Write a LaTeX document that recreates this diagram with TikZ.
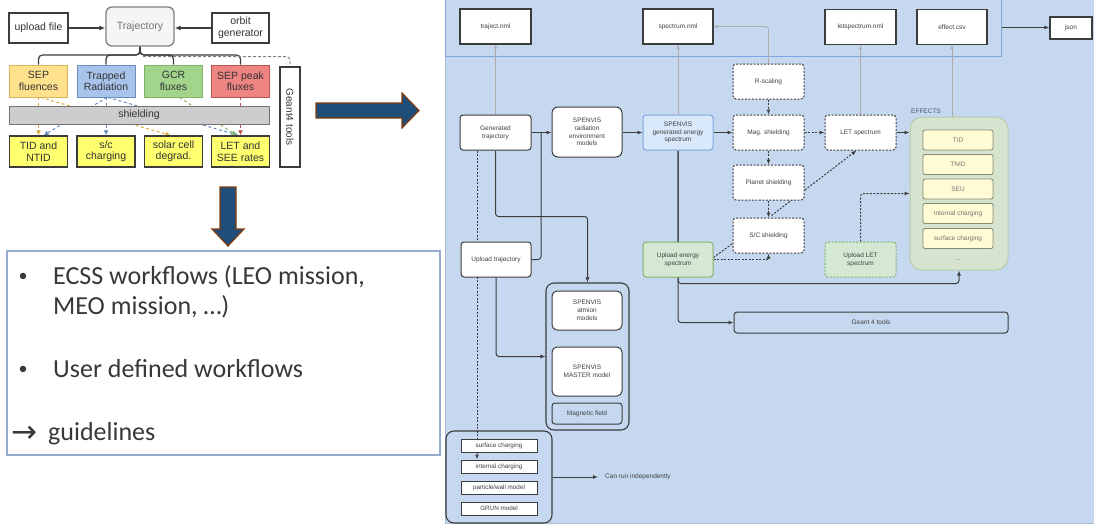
\documentclass[tikz,border=0pt]{standalone}
\usepackage{fontspec}
\setmainfont{Liberation Sans}
\newfontfamily\calib{Carlito}
\newfontfamily\djv{DejaVu Sans}
\usetikzlibrary{arrows.meta,calc}
\pgfdeclarelayer{bg}
\pgfdeclarelayer{edges}
\pgfsetlayers{bg,edges,main}
\definecolor{panel}{RGB}{198,216,239}
\definecolor{bandline}{RGB}{126,166,224}
\definecolor{dk}{RGB}{60,60,60}
\definecolor{orfill}{RGB}{255,224,140}
\definecolor{orline}{RGB}{214,182,86}
\definecolor{orarrow}{RGB}{222,170,60}
\definecolor{blfill}{RGB}{169,196,235}
\definecolor{blline}{RGB}{108,142,191}
\definecolor{grfill}{RGB}{163,212,140}
\definecolor{grline}{RGB}{130,179,102}
\definecolor{rdfill}{RGB}{238,133,131}
\definecolor{rdline}{RGB}{184,84,80}
\definecolor{yelfill}{RGB}{255,255,112}
\definecolor{shfill}{RGB}{205,205,205}
\definecolor{arrfill}{RGB}{31,78,121}
\definecolor{arrline}{RGB}{132,60,12}
\definecolor{tbline}{RGB}{150,170,205}
\definecolor{specfill}{RGB}{218,232,252}
\definecolor{upgreen}{RGB}{213,232,212}
\definecolor{effill}{RGB}{213,227,207}
\definecolor{efline}{RGB}{183,203,170}
\definecolor{innfill}{RGB}{255,252,213}
\definecolor{innline}{RGB}{138,138,112}
\definecolor{eflabel}{RGB}{70,85,105}
\tikzset{
  lbox/.style={draw=dk, line width=1.3pt, minimum width=58pt, minimum height=31pt, inner sep=1pt, align=center, font=\fontsize{10.5}{11.5}\selectfont, text=black!80},
  cbox/.style={lbox, line width=0.8pt, minimum height=32pt},
  rb/.style={draw=dk, line width=1pt, fill=white, rounded corners=3pt, minimum width=71pt, minimum height=35pt, inner sep=1pt, align=center, font=\fontsize{6.5}{7.8}\selectfont, text=black!75},
  rdash/.style={rb, dash pattern=on 2pt off 1.5pt},
  outb/.style={rb, rounded corners=0pt, line width=1.3pt},
  inner/.style={draw=innline, line width=0.9pt, fill=innfill, rounded corners=2pt, minimum width=70pt, minimum height=20pt, inner sep=1pt, font=\fontsize{6.5}{7.8}\selectfont, text=black!55},
  small/.style={draw=dk, line width=1pt, fill=white, minimum width=76pt, minimum height=13pt, inner sep=0.5pt, font=\fontsize{6.3}{7}\selectfont, text=black!75},
  flow/.style={draw=dk, line width=1pt, -{Latex[length=5pt,width=4pt]}},
  dflow/.style={flow, dash pattern=on 2pt off 1.5pt},
  dline/.style={draw=dk, line width=1pt, dash pattern=on 2pt off 1.5pt},
  gflow/.style={draw=gray!65, line width=0.8pt, -{Latex[length=4pt,width=3.5pt]}},
  lflow/.style={draw=dk, line width=1.2pt, -{Latex[length=6pt,width=5pt]}},
  cdash/.style={line width=1pt, dash pattern=on 3pt off 2.5pt},
  bigtext/.style={anchor=base west, inner sep=0pt, font=\calib\fontsize{26}{30}\selectfont, text=black!78},
  bullet/.style={anchor=center, inner sep=0pt, font=\calib\fontsize{18}{20}\selectfont, text=black!78}
}
\begin{document}
\begin{tikzpicture}[x=1pt,y=-1pt]
\useasboundingbox (0,0) rectangle (1094,525);

% ---------- right panel background ----------
\begin{pgfonlayer}{bg}
  \fill[panel] (445,0) rectangle (1094,523);
  \draw[tbline!80, line width=1pt] (445,0) -- (445,523) -- (1094,523);
  \node[draw=bandline, line width=1pt, minimum width=556pt, minimum height=57pt, inner sep=0pt] (band) at (723,27.5) {};
\end{pgfonlayer}

% ---------- left top diagram ----------
\node[lbox] (upfile) at (38.5,28) [minimum width=59pt, minimum height=30pt] {upload file};
\node[lbox, rounded corners=6pt, fill=black!4, draw=black!50, text=black!55, minimum width=68pt, minimum height=39pt] (traj) at (140,26.5) {Trajectory};
\node[lbox, minimum width=57pt, minimum height=30pt] (orbit) at (240.5,28) {orbit\\generator};

\node[cbox, fill=orfill, draw=orline] (sepf) at (38.5,81) {SEP\\fluences};
\node[cbox, fill=blfill, draw=blline] (trap) at (106,81) {Trapped\\Radiation};
\node[cbox, fill=grfill, draw=grline] (gcr) at (173.5,81) {GCR\\fluxes};
\node[cbox, fill=rdfill, draw=rdline] (sepp) at (240.5,81) {SEP peak\\fluxes};

\node[lbox, draw=black!55, line width=1pt, fill=shfill, minimum width=260pt, minimum height=18pt] (shield) at (139,115) {shielding};

\node[lbox, fill=yelfill] (tid) at (38.5,151.5) {TID and\\NTID};
\node[lbox, fill=yelfill] (scc) at (106,151.5) {s/c\\charging};
\node[lbox, fill=yelfill] (solar) at (173.5,151.5) {solar cell\\degrad.};
\node[lbox, fill=yelfill] (lets) at (240.5,151.5) {LET and\\SEE rates};

\node[lbox, line width=1.1pt, minimum width=20pt, minimum height=100pt, font=\fontsize{10}{11}\selectfont] (g4) at (290,117) {\rotatebox{-90}{Geant4 tools}};

\coordinate (bus) at (140,55);

% ---------- big arrows ----------
\draw[fill=arrfill, draw=arrline, line width=1.2pt] (316,103) -- (402,103) -- (402,93) -- (419,110.5) -- (402,128) -- (402,118) -- (316,118) -- cycle;
\draw[fill=arrfill, draw=arrline, line width=1.2pt] (220,187) -- (236,187) -- (236,229) -- (244,229) -- (228,246) -- (212,229) -- (220,229) -- cycle;

% ---------- text box ----------
\node[draw=tbline, line width=1.2pt, fill=white, minimum width=433pt, minimum height=204pt, inner sep=0pt] (tbox) at (223.5,353) {};
\node[bullet] (b1) at (23,277) {•};
\node[bigtext] (t1) at (53,284) {ECSS workflows (LEO mission,};
\node[bigtext] (t2) at (53,314) {MEO mission, …)};
\node[bullet] (b2) at (23,370) {•};
\node[bigtext] (t3) at (53,377) {User defined workflows};
\node[anchor=base west, inner sep=0pt, font=\djv\fontsize{31}{34}\selectfont, text=black!78] (arr) at (11,442) {→};
\node[bigtext] (t4) at (48,440) {guidelines};

% ---------- right diagram: outputs ----------
\node[outb] (trajnml) at (495.5,26.5) {traject.nml};
\node[outb, minimum width=70pt] (specnml) at (678,26.5) {spectrum.nml};
\node[outb] (letnml) at (860.5,27) {letspectrum.nml};
\node[outb, minimum width=70pt] (effcsv) at (952,27) {effect.csv};
\node[outb, minimum width=42pt, minimum height=22pt] (json) at (1071,28) {json};

% ---------- right diagram: main nodes ----------
\node[rb] (gentraj) at (495.5,132.5) {Generated\\trajectory};
\node[rb, rounded corners=6pt, minimum width=70pt, minimum height=50pt] (senv) at (587,132) {SPENVIS\\radiation\\environment\\models};
\node[rb, fill=specfill, draw=bandline, minimum width=70pt] (genspec) at (678,132.5) {SPENVIS\\generated energy\\spectrum};
\node[rdash] (rscale) at (768.5,81.5) {R-scaling};
\node[rdash] (mag) at (768.5,132.5) {Mag. shielding};
\node[rdash] (planet) at (768.5,182.5) {Planet shielding};
\node[rdash] (scsh) at (768.5,235.5) {S/C shielding};
\node[rdash] (letsp) at (860.5,132.5) {LET spectrum};

\node[draw=efline, line width=1pt, fill=effill, rounded corners=12pt, minimum width=98pt, minimum height=153pt] (effects) at (959,193.5) {};
\node[anchor=south west, inner sep=1pt, font=\fontsize{6.5}{7.8}\selectfont, text=eflabel] (eflab) at (910,115) {EFFECTS};
\node[inner] (e1) at (958,140) {TID};
\node[inner] (e2) at (958,164.5) {TNID};
\node[inner] (e3) at (958,189) {SEU};
\node[inner] (e4) at (958,213.5) {Internal charging};
\node[inner] (e5) at (958,238.5) {surface charging};
\node[font=\fontsize{6.5}{7.8}\selectfont, text=black!50] (edots) at (958,260) {...};

\node[rb, minimum width=70pt] (uptraj) at (496,259.5) {Upload trajectory};
\node[rb, fill=upgreen, draw=grline, minimum width=70pt] (upE) at (678,259.5) {Upload energy\\spectrum};
\node[rdash, fill=upgreen, draw=grline] (upLET) at (860.5,259.5) {Upload LET\\spectrum};

\node[draw=dk, line width=1.1pt, rounded corners=8pt, minimum width=83pt, minimum height=147pt] (spv) at (587.5,356.5) {};
\node[rb, rounded corners=5pt, minimum width=70pt, minimum height=39pt] (atmion) at (587,310.5) {SPENVIS\\atmion\\models};
\node[rb, rounded corners=5pt, minimum width=70pt, minimum height=49pt] (master) at (587,371.5) {SPENVIS\\MASTER model};
\node[rb, fill=panel, minimum width=70pt, minimum height=21pt] (magf) at (587,413.5) {Magnetic field};

\node[draw=dk, line width=1.1pt, rounded corners=8pt, minimum width=106pt, minimum height=92pt] (bl) at (499,477) {};
\node[small] (sc1) at (499,445.5) {surface charging};
\node[small] (ic) at (499,466.5) {internal charging};
\node[small] (pw) at (499,487.5) {particle/wall model};
\node[small] (grun) at (499,508.5) {GRUN model};
\coordinate (ind) at (598,477);
\node[anchor=west, inner sep=1pt, font=\fontsize{6.5}{7.8}\selectfont, text=black!75] (indtxt) at (604,477) {Can run independently};

\node[rb, fill=panel, rounded corners=3pt, minimum width=274pt, minimum height=21pt] (geant) at (871,322.5) {Geant 4 tools};

% ---------- connectors ----------
\begin{pgfonlayer}{edges}
  % left diagram
  \draw[lflow] (upfile.east) -- (upfile.east -| traj.west);
  \draw[lflow] (orbit.west) -- (orbit.west -| traj.east);
  \draw[draw=dk, line width=1.2pt, rounded corners=4pt] (traj.south) -- (bus) -| (sepf.north);
  \draw[draw=dk, line width=1.2pt, rounded corners=4pt] (traj.south) -- (bus) -| (trap.north);
  \draw[draw=dk, line width=1.2pt, rounded corners=4pt] (traj.south) -- (bus) -| (gcr.north);
  \draw[draw=dk, line width=1.2pt, rounded corners=4pt] (traj.south) -- (bus) -| (sepp.north);
  \draw[draw=black!50, line width=1pt, dash pattern=on 3pt off 2pt, rounded corners=4pt] ($(bus)+(3,1.5)$) -| (g4.north);

  \draw[cdash, draw=orarrow, -{Latex[length=5pt,width=5pt]}] (sepf.south) -- (tid.north);
  \draw[cdash, draw=orarrow, -{Latex[length=5pt,width=5pt]}] ($(sepf.south)+(2,0)$) -- ($(solar.north)+(-3,0)$);
  \draw[cdash, draw=blline, -{Latex[length=5pt,width=5pt]}] ($(trap.south)+(1,0)$) -- ($(tid.north)+(5,0)$);
  \draw[cdash, draw=blline, -{Latex[length=5pt,width=5pt]}] (trap.south) -- (scc.north);
  \draw[cdash, draw=blline, -{Latex[length=5pt,width=5pt]}] ($(trap.south)+(2,0)$) -- ($(lets.north)+(-2,0)$);
  \draw[cdash, draw=grline, -{Latex[length=5pt,width=5pt]}] ($(gcr.south)+(6,0)$) -- ($(lets.north)+(-4,0)$);
  \draw[cdash, draw=rdline, -{Latex[length=5pt,width=5pt]}] (sepp.south) -- (lets.north);

  % right diagram gray output arrows
  \draw[gflow] (gentraj.north) -- (trajnml.south);
  \draw[gflow] (genspec.north) -- (specnml.south);
  \draw[gflow, rounded corners=3pt] (rscale.north) |- (specnml.east);
  \draw[gflow] (letsp.north) -- (letsp.north |- letnml.south);
  \draw[gflow] (effects.north -| effcsv.south) -- (effcsv.south);
  \draw[flow] (band.east) -- (band.east -| json.west);

  % main flow
  \coordinate (j1) at (541,132.5);
  \draw[flow] (gentraj.east) -- (gentraj.east -| senv.west);
  \draw[draw=dk, line width=1pt, rounded corners=3pt] (uptraj.east) -| (j1);
  \draw[flow, rounded corners=3pt] (gentraj.south) -- ++(0,66) -| (spv.north);
  \draw[flow, rounded corners=3pt] (uptraj.south) |- (spv.west);
  \coordinate (lx) at ($(gentraj.south)+(-18.5,0)$);
  \draw[dflow] (lx) -- (lx |- ic.north);
  \draw[flow] (senv.east |- genspec.west) -- (genspec.west);
  \draw[flow] (genspec.east) -- (mag.west);
  \draw[dflow] (rscale.south) -- (mag.north);
  \draw[dflow] (mag.south) -- (planet.north);
  \draw[dflow] (planet.south) -- (scsh.north);
  \draw[dflow] (mag.east) -- (letsp.west);
  \draw[dflow] ($(scsh.north)+(3,-2)$) -- ($(letsp.south)+(-4,0)$);
  \draw[dline] ($(upE.east)+(0,-2)$) -- ($(scsh.west)+(0,8)$);
  \draw[dflow] (upE.east) -| (scsh.south);
  \draw[flow] (letsp.east) -- (letsp.east -| effects.west);
  \draw[dflow, rounded corners=3pt] (upLET.north) |- (effects.west);
  \draw[flow, rounded corners=3pt] (genspec.south) -- ++(0,133) -| (effects.south);
  \draw[flow, rounded corners=3pt] (genspec.south) |- (geant.west);
  \draw[flow] (bl.east) -- (ind);
\end{pgfonlayer}
\end{tikzpicture}
\end{document}
